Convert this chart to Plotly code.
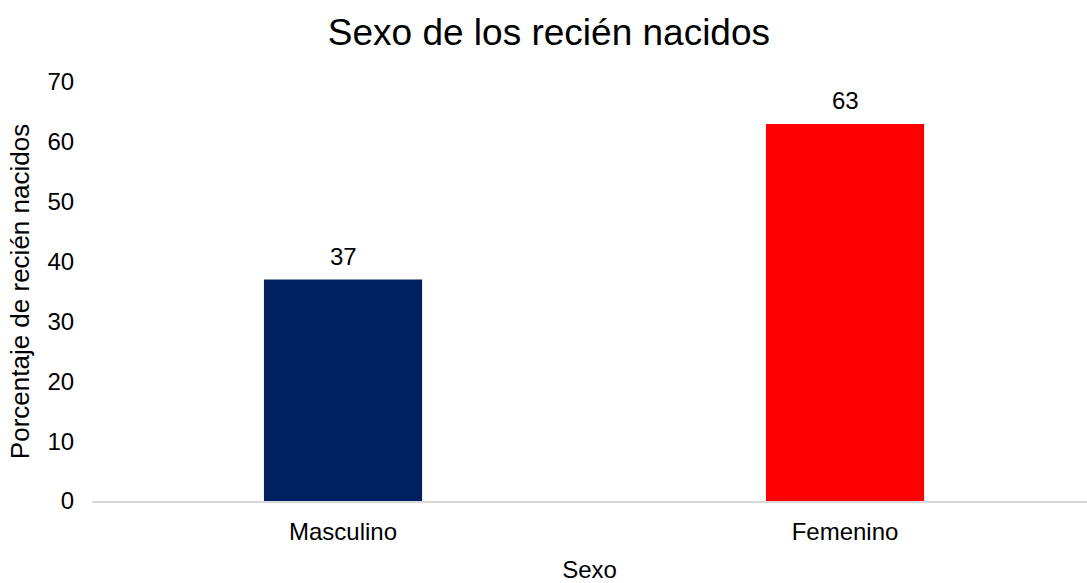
import plotly.graph_objects as go

# Datos
categorias = ["Masculino", "Femenino"]
porcentajes = [37, 63]
colores = ["#002060", "#FF0000"]
ticks_y = [0, 10, 20, 30, 40, 50, 60, 70]

FUENTE = "Liberation Sans, Arial, sans-serif"

fig = go.Figure()
fig.add_trace(go.Bar(
    x=categorias,
    y=porcentajes,
    marker=dict(color=colores, line=dict(width=0)),
    width=0.315,
    showlegend=False,
    hoverinfo="x+y",
))

# Etiquetas de valor sobre cada barra
for cat, val in zip(categorias, porcentajes):
    fig.add_annotation(
        x=cat, y=val, text=str(val), showarrow=False,
        xanchor="center", yanchor="bottom", yshift=8,
        font=dict(family=FUENTE, size=24, color="#000000"),
    )

fig.update_layout(
    width=1087, height=583,
    margin=dict(l=92, r=0, t=82, b=82),
    paper_bgcolor="white",
    plot_bgcolor="white",
    font=dict(family=FUENTE, size=24, color="#000000"),
    title=dict(
        text="Sexo de los recién nacidos",
        x=0.505, xanchor="center",
        y=0.945, yanchor="middle", yref="container",
        font=dict(family=FUENTE, size=37, color="#000000"),
    ),
    xaxis=dict(
        range=[-0.5, 1.482],
        showgrid=False,
        showline=True, linecolor="#d9d9d9", linewidth=2,
        ticks="", zeroline=False,
        tickfont=dict(size=24),
        ticklabelstandoff=8,
        title=dict(text="Sexo", font=dict(size=24), standoff=18),
    ),
    yaxis=dict(
        range=[0, 70],
        tickvals=ticks_y,
        showgrid=False, zeroline=False, showline=False,
        ticks="outside", ticklen=12, tickcolor="white",
        tickfont=dict(size=24),
        title=dict(text="Porcentaje de recién nacidos", font=dict(size=26), standoff=10),
    ),
)

fig.write_html("out.html")
